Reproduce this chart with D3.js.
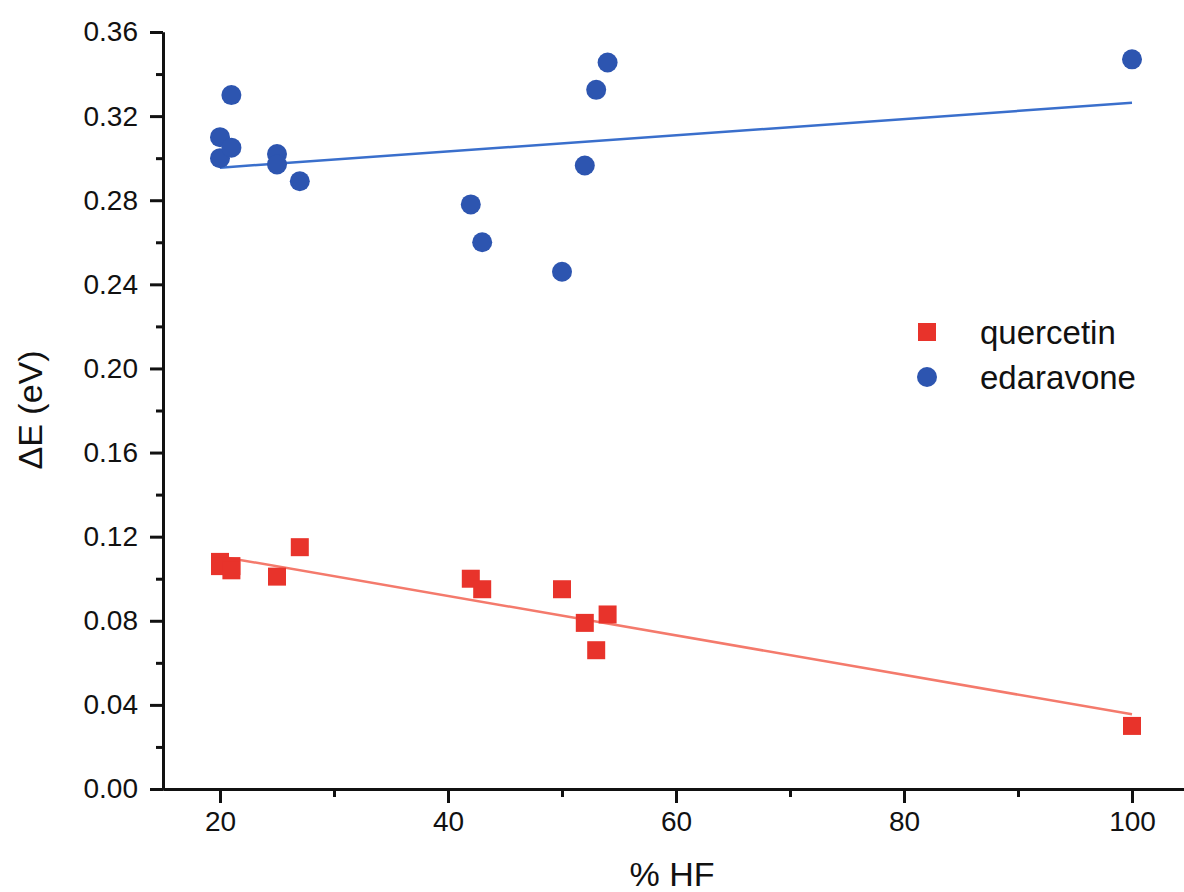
<!DOCTYPE html>
<html>
<head>
<meta charset="utf-8">
<script src="https://cdn.jsdelivr.net/npm/d3@7"></script>
<style>
  body { margin: 0; background: #fff; }
  svg text { font-family: "Liberation Sans", Arial, sans-serif; fill: #111; }
</style>
</head>
<body>
<svg width="1184" height="892"></svg>
<script>
// % HF values and dE (eV)
var hfQuercetin = [20, 20, 21, 21, 25, 27, 42, 43, 50, 52, 53, 54, 100]
var dEQuercetin = [0.108, 0.106, 0.106, 0.104, 0.101, 0.115, 0.100, 0.095, 0.095, 0.079, 0.066, 0.083, 0.030]

var hfEdaravone = [20, 20, 21, 21, 25, 25, 27, 42, 43, 50, 52, 53, 54, 100]
var dEEdaravone = [0.310, 0.300, 0.330, 0.305, 0.302, 0.297, 0.289, 0.278, 0.260, 0.246, 0.2965, 0.3325, 0.3455, 0.347]

// linear fit lines (end points)
var fitQuercetin = [[20, 0.1106], [100, 0.0355]]
var fitEdaravone = [[20, 0.2955], [100, 0.3263]]

var seriesNames = ['quercetin', 'edaravone']
var xTicks = [20, 40, 60, 80, 100]
var yTicks = [0, 0.04, 0.08, 0.12, 0.16, 0.2, 0.24, 0.28, 0.32, 0.36]

var red = '#e8332b'
var blue = '#2d55b0'

var svg = d3.select('svg')

var xScale = d3.scaleLinear().domain([15, 105]).range([163, 1189])
var yScale = d3.scaleLinear().domain([0, 0.36]).range([789, 32])

// axes
var xAxis = d3.axisBottom(xScale).tickValues(xTicks).tickSize(14).tickSizeOuter(0).tickPadding(8)
var xMinor = d3.axisBottom(xScale).tickValues(d3.range(30, 101, 20)).tickSize(8).tickFormat('').tickSizeOuter(0)
var yAxis = d3.axisLeft(yScale).tickValues(yTicks).tickSize(13).tickSizeOuter(0).tickPadding(12)
  .tickFormat(d3.format('.2f'))
var yMinor = d3.axisLeft(yScale).tickValues(d3.range(0.02, 0.36, 0.04)).tickSize(7).tickFormat('').tickSizeOuter(0)

function styleAxis(g) {
  g.selectAll('path, line').attr('stroke', '#111').attr('stroke-width', 3)
  g.selectAll('text').attr('font-size', 28).attr('fill', '#111')
    .style('font-family', '"Liberation Sans", Arial, sans-serif')
}

svg.append('g').attr('transform', 'translate(0,789)').call(xMinor).call(styleAxis)
svg.append('g').attr('transform', 'translate(0,789)').call(xAxis).call(styleAxis)
svg.append('g').attr('transform', 'translate(163,0)').call(yMinor).call(styleAxis)
svg.append('g').attr('transform', 'translate(163,0)').call(yAxis).call(styleAxis)

// axis titles
svg.append('text')
  .attr('x', 672).attr('y', 886)
  .attr('text-anchor', 'middle')
  .attr('font-size', 34)
  .text('% HF')

svg.append('text')
  .attr('transform', 'translate(42,410) rotate(-90)')
  .attr('text-anchor', 'middle')
  .attr('font-size', 34)
  .text('ΔE (eV)')

// fit lines
var line = d3.line()
  .x(function(d) { return xScale(d[0]) })
  .y(function(d) { return yScale(d[1]) })

svg.append('path').datum(fitQuercetin)
  .attr('d', line).attr('fill', 'none')
  .attr('stroke', '#f47a6c').attr('stroke-width', 2.5)

svg.append('path').datum(fitEdaravone)
  .attr('d', line).attr('fill', 'none')
  .attr('stroke', '#3a6fcc').attr('stroke-width', 2.5)

// points
var sq = 18

svg.selectAll('rect.q')
  .data(hfQuercetin)
  .enter().append('rect')
  .attr('class', 'q')
  .attr('x', function(d) { return xScale(d) - sq / 2 })
  .attr('y', function(d, i) { return yScale(dEQuercetin[i]) - sq / 2 })
  .attr('width', sq)
  .attr('height', sq)
  .attr('fill', red)

svg.selectAll('circle.e')
  .data(hfEdaravone)
  .enter().append('circle')
  .attr('class', 'e')
  .attr('cx', function(d) { return xScale(d) })
  .attr('cy', function(d, i) { return yScale(dEEdaravone[i]) })
  .attr('r', 10)
  .attr('fill', blue)

// legend
var legend = svg.append('g')

legend.append('rect')
  .attr('x', 918).attr('y', 323).attr('width', sq).attr('height', sq)
  .attr('fill', red)

legend.append('circle')
  .attr('cx', 927).attr('cy', 377).attr('r', 10)
  .attr('fill', blue)

legend.selectAll('text')
  .data(seriesNames)
  .enter().append('text')
  .attr('x', 980)
  .attr('y', function(d, i) { return 344 + i * 45 })
  .attr('font-size', 33)
  .text(function(d) { return d })
</script>
</body>
</html>
